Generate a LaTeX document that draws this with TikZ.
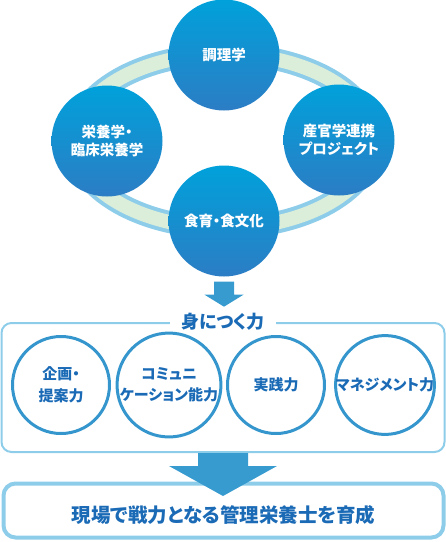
\documentclass[tikz,border=0pt]{standalone}
\usepackage{fontspec}
\newfontfamily\jpfont{Noto Sans CJK JP}[RawFeature={+palt}]
\usetikzlibrary{calc}

\definecolor{ringblue}{RGB}{141,205,234}
\definecolor{ringgreen}{RGB}{218,238,218}
\definecolor{balltop}{RGB}{0,161,219}
\definecolor{ballbottom}{RGB}{44,125,196}
\definecolor{arrowblue}{RGB}{56,155,207}
\definecolor{skillblue}{RGB}{52,150,204}
\definecolor{textblue}{RGB}{26,106,182}

\tikzset{
  ball/.style={circle, minimum size=111pt, inner sep=0pt, top color=balltop,
    bottom color=ballbottom, text=white, align=center,
    font=\jpfont\bfseries\fontsize{14.5}{18}\selectfont},
  skill/.style={circle, draw=skillblue, line width=3pt, minimum size=97pt,
    inner sep=0pt, text=textblue, align=center,
    font=\jpfont\bfseries\fontsize{15}{21.5}\selectfont},
  panel/.style={draw=ringblue, rounded corners=10pt, inner sep=0pt},
}

\begin{document}
\begin{tikzpicture}[x=1pt, y=-1pt]
  \useasboundingbox (0,0) rectangle (446,542);

  % Ring behind the four fields
  \draw[ringblue, line width=22pt] (224,141) ellipse [x radius=150, y radius=87];
  \draw[ringgreen, line width=14pt] (224,141) ellipse [x radius=150, y radius=87];

  % Four fields of study
  \node[ball] (cook) at (224,55) {調理学};
  \node[ball] (nutri) at (107,141) {栄養学・\\臨床栄養学};
  \node[ball] (pbl) at (339,140) {産官学連携\\プロジェクト};
  \node[ball] (food) at (224,221) {食育・食文化};

  % Skills panel
  \node[panel, line width=2pt, minimum width=443pt, minimum height=129pt]
    (skills) at (223,387.5) {};
  \node[fill=white, text=textblue, inner xsep=11pt, inner ysep=2pt,
    font=\jpfont\bfseries\fontsize{18}{20}\selectfont] (title) at (skills.north) {身につく力};

  % Small arrow
  \coordinate (a1) at ($(food.south)+(0,5)$);
  \coordinate (t1) at ($(food.south)+(0,30)$);
  \fill[arrowblue] ($(a1)+(-10,0)$) -- ($(a1)+(10,0)$) -- ($(a1)+(10,13)$)
    -- ($(a1)+(19.5,13)$) -- (t1) -- ($(a1)+(-19.5,13)$) -- ($(a1)+(-10,13)$) -- cycle;

  \node[skill] (plan) at (61,385) {企画・\\提案力};
  \node[skill] (comm) at (169,385) {コミュニ\\ケーション能力};
  \node[skill] (prac) at (276,385) {実践力};
  \node[skill] (mgmt) at (385,385) {マネジメント力};

  % Goal box
  \node[panel, line width=4pt, rounded corners=12pt, minimum width=440pt,
    minimum height=54pt, text=textblue, text height=26pt, text depth=2.4pt,
    font=\jpfont\bfseries\fontsize{19.5}{22}\selectfont]
    (goal) at (223.5,510.5) {現場で戦力となる管理栄養士を育成};

  % Big arrow
  \coordinate (a2) at (skills.south);
  \coordinate (t2) at ($(skills.south)+(0,43)$);
  \fill[arrowblue] ($(a2)+(-25,0)$) -- ($(a2)+(25,0)$) -- ($(a2)+(25,13)$)
    -- ($(a2)+(54,13)$) -- (t2) -- ($(a2)+(-54,13)$) -- ($(a2)+(-25,13)$) -- cycle;
\end{tikzpicture}
\end{document}
